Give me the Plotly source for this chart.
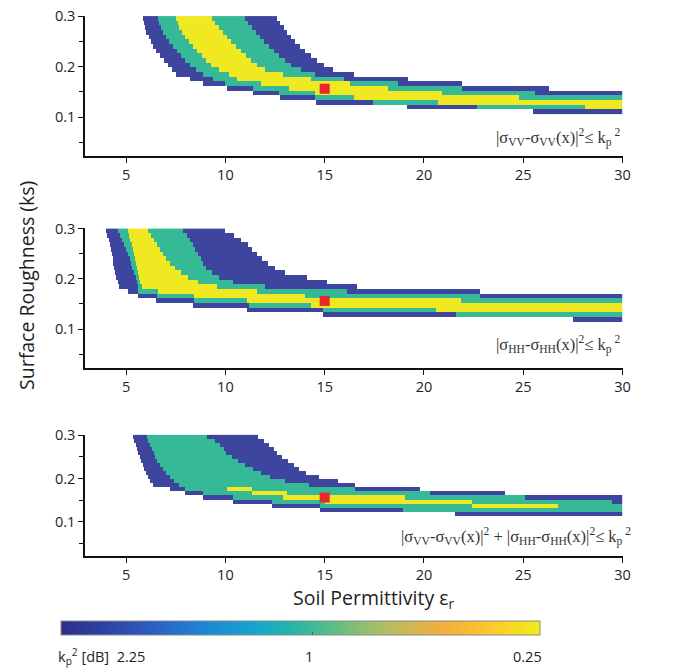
import numpy as np
import plotly.graph_objects as go

# Roughness rows (ks) of the retrieval grid, top to bottom
KS_ROWS = [0.2960, 0.2867, 0.2774, 0.2681, 0.2588, 0.2496, 0.2403, 0.2310, 0.2217,
           0.2124, 0.2031, 0.1938, 0.1845, 0.1752, 0.1659, 0.1567, 0.1474, 0.1381,
           0.1288, 0.1195, 0.1102]

# Permittivity extent of each k_p level per row: (low, high); None = empty
VV_BLUE_LO = [5.84, 5.89, 5.94, 6.01, 6.13, 6.23, 6.37, 6.51, 6.71, 6.91, 7.10, 7.30, 7.52, 8.18, 8.85, 10.09, 11.42, 12.74, 14.57, 19.13, 25.50]
VV_BLUE_HI = [12.58, 12.75, 12.95, 13.10, 13.30, 13.50, 13.75, 14.00, 14.30, 14.60, 14.95, 15.40, 16.50, 19.20, 21.90, 26.30, 30, 30, 30, 30, 30]
VV_TEAL_LO = [6.61, 6.66, 6.75, 6.85, 7.00, 7.15, 7.35, 7.55, 7.75, 7.95, 8.20, 8.50, 8.90, 9.40, 10.00, 11.40, 12.70, 14.50, 17.47, 22.69, None]
VV_TEAL_HI = [11.00, 11.15, 11.35, 11.55, 11.75, 11.95, 12.20, 12.45, 12.70, 13.00, 13.30, 13.80, 14.50, 16.00, 18.70, 21.90, 25.60, 30, 30, 30, None]
VV_YEL_LO = [7.52, 7.58, 7.66, 7.80, 7.95, 8.15, 8.35, 8.55, 8.80, 9.05, 9.30, 9.70, 10.20, 10.60, 11.80, 13.20, 14.50, 16.50, 20.70, 28.08, None]
VV_YEL_HI = [9.34, 9.50, 9.70, 9.90, 10.10, 10.30, 10.55, 10.80, 11.05, 11.30, 11.60, 12.00, 12.90, 14.30, 16.30, 18.20, 20.90, 24.80, 30, 30, None]

HH_BLUE_LO = [4.00, 4.07, 4.13, 4.20, 4.24, 4.28, 4.33, 4.37, 4.42, 4.46, 4.52, 4.58, 4.65, 5.10, 5.60, 6.52, 8.34, 11.08, 14.90, 27.50, None]
HH_BLUE_HI = [10.00, 10.45, 10.80, 11.15, 11.35, 11.60, 11.85, 12.15, 12.50, 13.00, 14.10, 15.10, 16.64, 22.86, 30, 30, 30, 30, 30, 30, None]
HH_TEAL_LO = [4.58, 4.68, 4.80, 4.92, 5.02, 5.10, 5.18, 5.25, 5.32, 5.40, 5.48, 5.55, 5.62, 5.60, 6.55, 8.40, 11.20, 14.90, 21.61, None, None]
HH_TEAL_HI = [7.85, 8.05, 8.20, 8.35, 8.47, 8.60, 8.75, 8.90, 9.05, 9.35, 9.70, 10.40, 12.00, 16.14, 22.86, 30, 30, 30, 30, None, None]
HH_YEL_LO = [5.08, 5.15, 5.22, 5.30, 5.36, 5.42, 5.47, 5.52, 5.56, 5.60, 5.65, 5.72, 5.80, 6.60, 8.40, 11.10, 14.30, 20.62, None, None, None]
HH_YEL_HI = [6.11, 6.25, 6.40, 6.55, 6.70, 6.85, 7.00, 7.20, 7.45, 7.75, 8.10, 8.60, 9.60, 11.60, 14.00, 21.86, 30, 30, None, None, None]

CB_BLUE_LO = [5.36, 5.42, 5.50, 5.57, 5.62, 5.69, 5.76, 5.83, 5.90, 5.98, 6.08, 6.19, 6.35, 7.19, 7.93, 8.84, 10.42, 12.33, 14.73, 21.53, None]
CB_BLUE_HI = [11.66, 11.95, 12.20, 12.45, 12.60, 12.85, 13.15, 13.45, 13.70, 14.05, 14.70, 15.70, 16.55, 19.79, 24.10, 30, 30, 30, 30, 30, None]
CB_TEAL_LO = [6.03, 6.12, 6.22, 6.31, 6.38, 6.46, 6.57, 6.70, 6.85, 7.00, 7.20, 7.40, 7.65, 7.93, 8.84, 10.42, 12.33, 14.73, 18.96, None, None]
CB_TEAL_HI = [9.09, 9.50, 9.75, 9.95, 10.05, 10.35, 10.65, 11.00, 11.40, 11.80, 12.25, 13.00, 14.20, 16.55, 20.30, 25.10, 29.50, 30, 30, None, None]
CB_YEL_LO = [None] * 13 + [10.09, 11.33, 12.90, 15.00, 22.44, None, None, None]
CB_YEL_HI = [None] * 13 + [11.33, 13.08, 19.04, 22.44, 26.75, None, None, None]

# True surface (reference point)
TRUE_EPS = 15.0
TRUE_KS = 0.156

# Colour bar labels (k_p^2 in dB)
KP2_LABELS = ["2.25", "1", "0.25"]

X_TICKS = [5, 10, 15, 20, 25, 30]
Y_TICKS = [0.1, 0.2, 0.3]
Y_MINOR = [0.05, 0.15, 0.25]

LEVEL_COLORS = ["#3d459e", "#35b997", "#f0e821"]
PARULA = [
    [0.00, "#2e2d8a"], [0.10, "#2f44a6"], [0.20, "#2a62c4"], [0.30, "#1d86d4"],
    [0.40, "#14a5cf"], [0.48, "#22b5ab"], [0.55, "#4fbc8c"], [0.63, "#8fbf70"],
    [0.71, "#c6bb56"], [0.80, "#f4ad3b"], [0.90, "#fcc92c"], [1.00, "#f1ec1a"],
]

EPS_CELLS = np.arange(3.025, 30.0, 0.05)


def level_grid(blo, bhi, tlo, thi, ylo, yhi):
    z = np.full((len(KS_ROWS), len(EPS_CELLS)), np.nan)
    for i in range(len(KS_ROWS)):
        for lvl, lo, hi in ((1, blo[i], bhi[i]), (2, tlo[i], thi[i]), (3, ylo[i], yhi[i])):
            if lo is None:
                continue
            z[i, (EPS_CELLS >= lo) & (EPS_CELLS <= hi)] = lvl
    return z[::-1]


panels = [
    level_grid(VV_BLUE_LO, VV_BLUE_HI, VV_TEAL_LO, VV_TEAL_HI, VV_YEL_LO, VV_YEL_HI),
    level_grid(HH_BLUE_LO, HH_BLUE_HI, HH_TEAL_LO, HH_TEAL_HI, HH_YEL_LO, HH_YEL_HI),
    level_grid(CB_BLUE_LO, CB_BLUE_HI, CB_TEAL_LO, CB_TEAL_HI, CB_YEL_LO, CB_YEL_HI),
]
ks_up = KS_ROWS[::-1]

discrete = [[0, LEVEL_COLORS[0]], [1 / 3, LEVEL_COLORS[0]],
            [1 / 3, LEVEL_COLORS[1]], [2 / 3, LEVEL_COLORS[1]],
            [2 / 3, LEVEL_COLORS[2]], [1, LEVEL_COLORS[2]]]

W, H = 676, 669
fig = go.Figure()

for n, z in enumerate(panels, start=1):
    sfx = "" if n == 1 else str(n)
    fig.add_trace(go.Heatmap(
        x=EPS_CELLS, y=ks_up, z=z, colorscale=discrete, zmin=0.5, zmax=3.5,
        showscale=False, hoverinfo="skip", xaxis="x" + sfx, yaxis="y" + sfx,
    ))
    fig.add_trace(go.Scatter(
        x=[TRUE_EPS], y=[TRUE_KS], mode="markers", xaxis="x" + sfx, yaxis="y" + sfx,
        marker=dict(symbol="square", size=10, color="#e8262b", line=dict(width=0)),
        showlegend=False, hoverinfo="skip",
    ))

# colour bar (k_p from 1.5 down to 0.5, left to right)
fig.add_trace(go.Scatter(
    x=[None], y=[None], mode="markers", showlegend=False, hoverinfo="skip",
    marker=dict(
        color=[-1.0], colorscale=PARULA, cmin=-1.55, cmax=-0.5, showscale=True,
        colorbar=dict(
            orientation="h", x=62 / W, xanchor="left", y=1 - 620 / H, yanchor="top",
            lenmode="pixels", len=479, thickness=14, thicknessmode="pixels",
            outlinewidth=1, outlinecolor="#8a8a8a",
            tickvals=[-1.0], ticks="inside", ticklen=3, tickcolor="#555",
            showticklabels=False, xpad=0, ypad=0,
        ),
    ),
))

x_dom = [86 / W, 630 / W]
y_doms = [
    [1 - 149.3 / H, 1 - 7.0 / H],
    [1 - 364.0 / H, 1 - 222.3 / H],
    [1 - 554.3 / H, 1 - 431.4 / H],
]
tick_font = dict(family="Open Sans", size=14.5, color="#1e1e1e")
axis_common = dict(showline=True, linecolor="#111", linewidth=1.6, ticks="outside",
                   ticklen=5, tickwidth=1.4, tickcolor="#111", showgrid=False,
                   zeroline=False, tickfont=tick_font, fixedrange=True)

layout = dict(width=W, height=H, margin=dict(l=0, r=0, t=0, b=0),
              paper_bgcolor="white", plot_bgcolor="white", showlegend=False)
for n in range(1, 4):
    sfx = "" if n == 1 else str(n)
    layout["xaxis" + sfx] = dict(axis_common, domain=x_dom, range=[2.93, 30],
                                 tickvals=X_TICKS, anchor="y" + sfx)
    layout["yaxis" + sfx] = dict(axis_common, domain=y_doms[n - 1], range=[0.022, 0.301],
                                 tickvals=Y_TICKS, ticktext=["0.1", "0.2", "0.3"],
                                 anchor="x" + sfx,
                                 minor=dict(tickvals=Y_MINOR, ticks="outside", ticklen=4,
                                            tickwidth=1.4, tickcolor="#111"))
fig.update_layout(**layout)

label_font = dict(family="Open Sans", size=19.5, color="#1e1e1e")
eq_font = dict(family="Liberation Serif", size=16.5, color="#333")
cb_font = dict(family="Open Sans", size=14.5, color="#1e1e1e")
ann = [
    dict(x=27 / W, y=1 - 280 / H, text="Surface Roughness (ks)", textangle=-90,
         font=label_font),
    dict(x=378 / W, y=1 - 598 / H, text="Soil Permittivity ε<sub>r</sub>", font=label_font),
    dict(x=629 / W, y=1 - 130 / H, xanchor="right",
         text="|σ<sub>VV</sub>-σ<sub>VV</sub>(x)|<sup>2</sup>≤ k<sub>p</sub><sup> 2</sup>",
         font=eq_font),
    dict(x=629 / W, y=1 - 340 / H, xanchor="right",
         text="|σ<sub>HH</sub>-σ<sub>HH</sub>(x)|<sup>2</sup>≤ k<sub>p</sub><sup> 2</sup>",
         font=eq_font),
    dict(x=641 / W, y=1 - 535 / H, xanchor="right",
         text="|σ<sub>VV</sub>-σ<sub>VV</sub>(x)|<sup>2</sup> + |σ<sub>HH</sub>-σ<sub>HH</sub>(x)|<sup>2</sup>≤ k<sub>p</sub><sup> 2</sup>",
         font=eq_font),
    dict(x=57 / W, y=1 - 656 / H, xanchor="left",
         text="k<sub>p</sub><sup>2</sup> [dB]  " + KP2_LABELS[0], font=cb_font),
    dict(x=313 / W, y=1 - 656 / H, text=KP2_LABELS[1], font=cb_font),
    dict(x=551 / W, y=1 - 656 / H, xanchor="right", text=KP2_LABELS[2], font=cb_font),
]
for a in ann:
    a.update(xref="paper", yref="paper", showarrow=False)
    a.setdefault("xanchor", "center")
    a.setdefault("yanchor", "middle")
fig.update_layout(annotations=ann)

fig.write_html("out.html")
